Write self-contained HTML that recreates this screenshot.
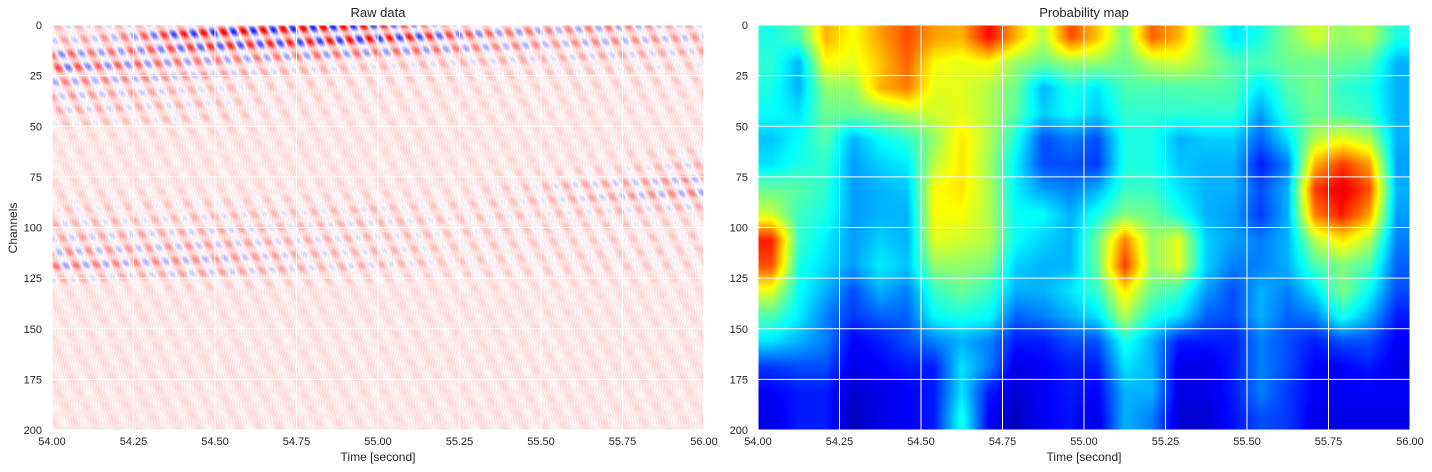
<!DOCTYPE html>
<html><head><meta charset="utf-8">
<style>
body{margin:0;background:#fff;width:1432px;height:472px;overflow:hidden;font-family:"Liberation Sans",sans-serif;}
#wrap{position:relative;width:1432px;height:472px;}
canvas{position:absolute;}
svg{position:absolute;left:0;top:0;}
text{font-family:"Liberation Sans",sans-serif;fill:#262626;}
</style></head>
<body><div id="wrap">
<canvas id="raw" width="652" height="405" style="left:52px;top:25px"></canvas>
<canvas id="prob" width="652" height="405" style="left:758px;top:25px"></canvas>
<svg id="ov" width="1432" height="472"></svg>
</div>
<script>
const xTicks=[54.00,54.25,54.50,54.75,55.00,55.25,55.50,55.75,56.00];
const yTicks=[0,25,50,75,100,125,150,175,200];
// Probability map: 16 rows (12.5 channels each) x 24 cols (1/12 s each)
const probRows=[
[0.4,0.45,0.7,0.62,0.72,0.8,0.72,0.7,0.87,0.7,0.55,0.8,0.68,0.5,0.78,0.7,0.5,0.35,0.4,0.5,0.58,0.52,0.55,0.4],
[0.42,0.3,0.62,0.6,0.68,0.78,0.62,0.6,0.62,0.52,0.48,0.52,0.52,0.48,0.55,0.58,0.52,0.45,0.45,0.48,0.48,0.48,0.45,0.3],
[0.4,0.3,0.52,0.52,0.7,0.75,0.6,0.6,0.55,0.48,0.3,0.4,0.35,0.45,0.45,0.45,0.46,0.45,0.35,0.45,0.5,0.42,0.4,0.3],
[0.38,0.35,0.48,0.48,0.5,0.55,0.58,0.6,0.55,0.46,0.33,0.38,0.33,0.42,0.42,0.42,0.42,0.42,0.28,0.42,0.48,0.45,0.42,0.3],
[0.32,0.38,0.46,0.3,0.38,0.42,0.52,0.65,0.55,0.4,0.2,0.25,0.2,0.4,0.4,0.3,0.33,0.33,0.22,0.35,0.55,0.6,0.55,0.3],
[0.35,0.4,0.42,0.28,0.33,0.36,0.56,0.65,0.53,0.36,0.2,0.2,0.18,0.4,0.4,0.32,0.3,0.3,0.15,0.25,0.7,0.82,0.72,0.28],
[0.48,0.46,0.42,0.28,0.3,0.32,0.62,0.65,0.55,0.36,0.28,0.25,0.3,0.43,0.43,0.35,0.3,0.3,0.2,0.3,0.82,0.9,0.8,0.3],
[0.58,0.43,0.4,0.28,0.3,0.3,0.62,0.62,0.55,0.38,0.38,0.3,0.4,0.5,0.48,0.4,0.3,0.28,0.18,0.3,0.75,0.85,0.72,0.28],
[0.85,0.43,0.36,0.28,0.33,0.3,0.6,0.58,0.55,0.38,0.33,0.3,0.48,0.75,0.52,0.6,0.33,0.28,0.25,0.3,0.55,0.65,0.55,0.25],
[0.8,0.4,0.34,0.28,0.36,0.32,0.52,0.52,0.5,0.33,0.3,0.3,0.48,0.82,0.52,0.6,0.33,0.25,0.25,0.3,0.45,0.5,0.45,0.22],
[0.6,0.38,0.3,0.2,0.3,0.25,0.43,0.48,0.43,0.3,0.3,0.35,0.43,0.65,0.48,0.43,0.28,0.2,0.3,0.25,0.35,0.5,0.38,0.2],
[0.45,0.36,0.25,0.18,0.22,0.22,0.38,0.4,0.38,0.22,0.25,0.3,0.35,0.55,0.4,0.35,0.22,0.2,0.3,0.22,0.25,0.4,0.3,0.15],
[0.35,0.3,0.25,0.12,0.15,0.2,0.25,0.3,0.25,0.15,0.15,0.2,0.2,0.4,0.3,0.15,0.15,0.15,0.25,0.2,0.15,0.2,0.2,0.12],
[0.18,0.2,0.2,0.1,0.12,0.15,0.15,0.35,0.25,0.1,0.12,0.15,0.15,0.35,0.3,0.1,0.1,0.15,0.25,0.2,0.12,0.12,0.15,0.1],
[0.12,0.15,0.15,0.08,0.1,0.12,0.15,0.35,0.15,0.08,0.12,0.15,0.12,0.3,0.3,0.1,0.1,0.15,0.25,0.18,0.12,0.12,0.12,0.12],
[0.1,0.15,0.15,0.06,0.1,0.12,0.15,0.4,0.12,0.06,0.12,0.14,0.1,0.3,0.25,0.08,0.08,0.14,0.2,0.18,0.1,0.1,0.1,0.1]];
// Raw data: wave amplitude per 12.5-channel row x 1/12 s column
const rawAmp=[
[0.25,0.3,0.4,0.6,0.85,0.95,1,1,1,1,1,1,0.9,0.85,0.7,0.6,0.5,0.5,0.4,0.45,0.45,0.4,0.35,0.35],
[0.75,0.6,0.6,0.55,0.5,0.45,0.4,0.35,0.3,0.3,0.25,0.22,0.22,0.22,0.22,0.22,0.22,0.22,0.2,0.2,0.2,0.2,0.2,0.2],
[0.35,0.35,0.3,0.3,0.25,0.22,0.18,0.15,0.12,0.12,0.1,0.1,0.1,0.1,0.1,0.1,0.1,0.1,0.1,0.1,0.1,0.1,0.1,0.1],
[0.25,0.25,0.25,0.22,0.22,0.2,0.18,0.12,0.1,0.1,0.08,0.08,0.08,0.08,0.08,0.08,0.08,0.08,0.08,0.08,0.08,0.08,0.08,0.08],
[0.06,0.06,0.06,0.06,0.06,0.06,0.06,0.06,0.06,0.06,0.06,0.06,0.06,0.06,0.06,0.06,0.06,0.06,0.06,0.06,0.06,0.06,0.06,0.06],
[0.06,0.06,0.06,0.06,0.06,0.06,0.06,0.06,0.06,0.06,0.06,0.06,0.06,0.06,0.06,0.06,0.06,0.06,0.06,0.08,0.1,0.15,0.2,0.25],
[0.08,0.08,0.08,0.08,0.08,0.08,0.08,0.08,0.08,0.08,0.08,0.08,0.08,0.08,0.08,0.1,0.15,0.2,0.25,0.3,0.35,0.4,0.45,0.5],
[0.2,0.2,0.2,0.2,0.2,0.22,0.22,0.22,0.22,0.22,0.22,0.25,0.22,0.2,0.18,0.18,0.18,0.18,0.18,0.18,0.18,0.18,0.15,0.15],
[0.3,0.3,0.3,0.3,0.3,0.3,0.3,0.28,0.26,0.25,0.24,0.22,0.22,0.2,0.18,0.16,0.15,0.15,0.15,0.15,0.15,0.15,0.15,0.15],
[0.5,0.45,0.42,0.42,0.42,0.42,0.38,0.34,0.3,0.26,0.25,0.25,0.22,0.2,0.16,0.15,0.15,0.15,0.15,0.15,0.15,0.15,0.15,0.15],
[0.06,0.06,0.06,0.06,0.06,0.06,0.06,0.06,0.06,0.06,0.06,0.06,0.06,0.06,0.06,0.06,0.06,0.06,0.06,0.06,0.06,0.06,0.06,0.06],
[0.06,0.06,0.06,0.06,0.06,0.06,0.06,0.06,0.06,0.06,0.06,0.06,0.06,0.06,0.06,0.06,0.06,0.06,0.06,0.06,0.06,0.06,0.06,0.06],
[0.06,0.06,0.06,0.06,0.06,0.06,0.06,0.06,0.06,0.06,0.06,0.06,0.06,0.06,0.06,0.06,0.06,0.06,0.06,0.06,0.06,0.06,0.06,0.06],
[0.06,0.06,0.06,0.06,0.06,0.06,0.06,0.06,0.06,0.06,0.06,0.06,0.06,0.06,0.06,0.06,0.06,0.06,0.06,0.06,0.06,0.06,0.06,0.06],
[0.06,0.06,0.06,0.06,0.06,0.06,0.06,0.06,0.06,0.06,0.06,0.06,0.06,0.06,0.06,0.06,0.06,0.06,0.06,0.06,0.06,0.06,0.06,0.06],
[0.06,0.06,0.06,0.06,0.06,0.06,0.06,0.06,0.06,0.06,0.06,0.06,0.06,0.06,0.06,0.06,0.06,0.06,0.06,0.06,0.06,0.06,0.06,0.06]];
const W=652,H=405,T0=54,T1=56,C0=0,C1=200;
function sampleGrid(g,t,ch){
  const nr=g.length,nc=g[0].length;
  let fc=(t-T0)/(T1-T0)*nc-0.5, fr=(ch-C0)/(C1-C0)*nr-0.5;
  fc=Math.max(0,Math.min(nc-1,fc)); fr=Math.max(0,Math.min(nr-1,fr));
  const c0=Math.floor(fc),r0=Math.floor(fr),c1=Math.min(nc-1,c0+1),r1=Math.min(nr-1,r0+1);
  const dx=fc-c0,dy=fr-r0;
  return g[r0][c0]*(1-dx)*(1-dy)+g[r0][c1]*dx*(1-dy)+g[r1][c0]*(1-dx)*dy+g[r1][c1]*dx*dy;
}
function jet(v){const cl=x=>Math.max(0,Math.min(1,x));
  return [cl(1.5-Math.abs(4*v-3))*255,cl(1.5-Math.abs(4*v-2))*255,cl(1.5-Math.abs(4*v-1))*255];}
function fill(id,fn){const cv=document.getElementById(id),ctx=cv.getContext('2d'),im=ctx.createImageData(W,H);
  for(let y=0;y<H;y++)for(let x=0;x<W;x++){const t=T0+(x+0.5)/W*(T1-T0),ch=C0+(y+0.5)/H*(C1-C0);
    const c=fn(t,ch,x,y),i=(y*W+x)*4;im.data[i]=c[0];im.data[i+1]=c[1];im.data[i+2]=c[2];im.data[i+3]=255;}
  ctx.putImageData(im,0,0);}
fill('prob',(t,ch)=>jet(sampleGrid(probRows,t,ch)));
fill('raw',(t,ch,x,y)=>{
  const a=sampleGrid(rawAmp,t,ch);
  let v=0.09+a*Math.sin(2*Math.PI*(t*16-ch*0.05))*(0.6+0.4*Math.sin(ch*0.9+t*7))+0.06*Math.sin(x*2.3+Math.sin(y*0.17)*5);
  v=Math.max(-1,Math.min(1,v));
  if(v>=0){const k=255*(1-v);return [255,k,k];}const k=255*(1+v);return [k,k,255];});
// overlay
const ov=document.getElementById('ov'),NS='http://www.w3.org/2000/svg';
function el(tag,attrs,txt){const e=document.createElementNS(NS,tag);for(const k in attrs)e.setAttribute(k,attrs[k]);if(txt!=null)e.textContent=txt;ov.appendChild(e);return e;}
const xs=(L,t)=>L+(t-T0)/(T1-T0)*W, ys=ch=>25+(ch-C0)/(C1-C0)*H;
[[52,'raw','Raw data'],[758,'prob','Probability map']].forEach(([L,key,title])=>{
  xTicks.forEach(t=>{const x=xs(L,t);
    const g=el('line',{x1:x,x2:x,y1:25,y2:430,stroke:'#fff','stroke-width':1});
    
    
    const lb=el('text',{x:x,y:445,'text-anchor':'middle','font-size':11},t.toFixed(2));
    
    });
  yTicks.forEach(c=>{const y=ys(c);
    const g=el('line',{x1:L,x2:L+W,y1:y,y2:y,stroke:'#fff','stroke-width':1});
    
    
    const lb=el('text',{x:L-10,y:y+4,'text-anchor':'end','font-size':11},String(c));
    
    });
  const tt=el('text',{x:L+W/2,y:17,'text-anchor':'middle','font-size':13},title);
  
  
  const xl=el('text',{x:L+W/2,y:461,'text-anchor':'middle','font-size':12},'Time [second]');
  
  
});
const yl=el('text',{x:17,y:228,'text-anchor':'middle','font-size':12,transform:'rotate(-90 17 228)'},'Channels');


</script>
</body></html>
